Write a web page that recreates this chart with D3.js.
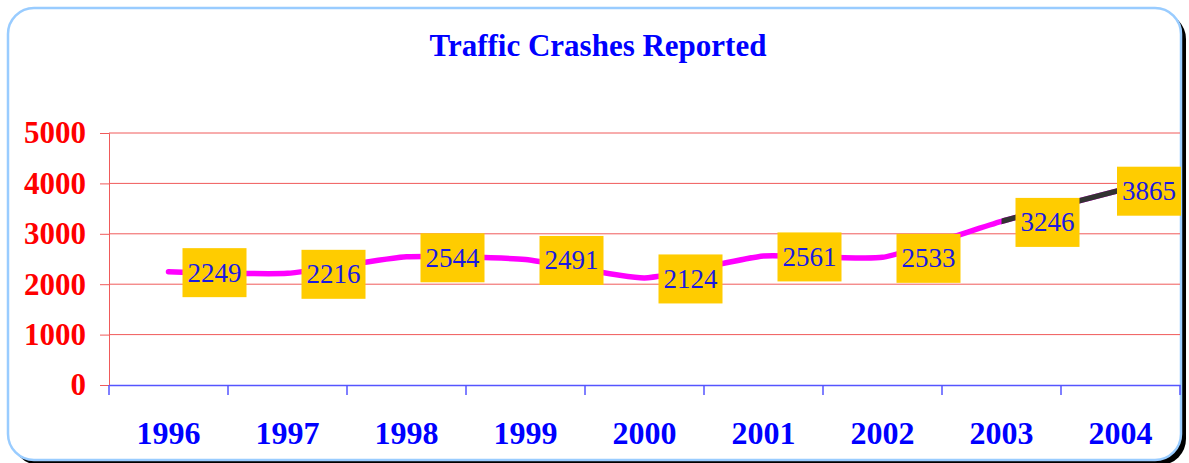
<!DOCTYPE html>
<html>
<head>
<meta charset="utf-8">
<script src="https://cdn.jsdelivr.net/npm/d3@7"></script>
<style>
  html, body { margin: 0; padding: 0; background: #fff; }
  svg { display: block; }
</style>
</head>
<body>
<div id="chart"></div>
<script>
// chart values
const years = ["1996", "1997", "1998", "1999", "2000", "2001", "2002", "2003", "2004"];
const crashes = [2249, 2216, 2544, 2491, 2124, 2561, 2533, 3246, 3865];
const yTicks = [0, 1000, 2000, 3000, 4000, 5000];
const chartTitle = "Traffic Crashes Reported";

const serif = "'Liberation Serif', 'Times New Roman', serif";

/**
 * Build the svg, the framed panel and the scales.
 * @param plot plot object that collects all the pieces
 * @param key selector for the html
 */
function initPlot(plot, key) {
    plot.W = 1189;
    plot.H = 463;
    plot.margin = {top: 133, right: 9, bottom: 78, left: 109};
    plot.width = plot.W - plot.margin.left - plot.margin.right;
    plot.height = plot.H - plot.margin.top - plot.margin.bottom;

    plot.graph = d3.select(key).append("svg")
        .attr("width", plot.W)
        .attr("height", plot.H);

    // panel with shadow
    plot.graph.append("rect")
        .attr("x", 13).attr("y", 13)
        .attr("width", 1173).attr("height", 452)
        .attr("rx", 26)
        .attr("fill", "#000");
    plot.graph.append("rect")
        .attr("x", 8).attr("y", 8)
        .attr("width", 1173).attr("height", 452)
        .attr("rx", 26)
        .attr("fill", "#fff")
        .attr("stroke", "#99ccff")
        .attr("stroke-width", 2.5);

    plot.graph.append("text")
        .attr("x", 598).attr("y", 56)
        .attr("text-anchor", "middle")
        .style("font-family", serif)
        .style("font-weight", "bold")
        .style("font-size", "31px")
        .attr("fill", "#0000ff")
        .text(chartTitle);

    plot.plot = plot.graph.append("g")
        .attr("transform", "translate(" + plot.margin.left + "," + plot.margin.top + ")");

    plot.x = d3.scaleBand().domain(years).range([0, plot.width]);
    plot.y = d3.scaleLinear().domain([0, 5000]).range([plot.height, 0]);
}

/**
 * Grid lines, y axis in red, x axis in blue.
 */
function drawAxes(plot) {
    let g = plot.plot;

    g.append("g").selectAll("line")
        .data(yTicks.filter(d => d > 0))
        .join("line")
        .attr("x1", 0).attr("x2", plot.width)
        .attr("y1", d => plot.y(d)).attr("y2", d => plot.y(d))
        .attr("stroke", "#f05a5a");

    let yAxis = g.append("g")
        .call(d3.axisLeft(plot.y).tickValues(yTicks).tickSize(9).tickPadding(14).tickFormat(d3.format("d")));
    yAxis.selectAll("line, path").attr("stroke", "#f05a5a");
    yAxis.selectAll("text")
        .attr("fill", "#ff0000")
        .style("font-family", serif)
        .style("font-weight", "bold")
        .style("font-size", "31px");

    let xAxis = g.append("g")
        .attr("transform", "translate(0," + plot.height + ")")
        .call(d3.axisBottom(plot.x).tickSize(0).tickPadding(36));
    xAxis.select("path").attr("stroke", "#5555ff").attr("stroke-width", 1.5);
    xAxis.selectAll("text")
        .attr("fill", "#0000ff")
        .style("font-family", serif)
        .style("font-weight", "bold")
        .style("font-size", "32px");

    // ticks between the categories
    let bounds = years.map(d => plot.x(d)).concat([plot.width]);
    xAxis.append("g").selectAll("line")
        .data(bounds)
        .join("line")
        .attr("x1", d => d).attr("x2", d => d)
        .attr("y1", 0).attr("y2", 10)
        .attr("stroke", "#5555ff")
        .attr("stroke-width", 1.5);
}

/**
 * Smoothed line, last stretch dark, then the value boxes.
 */
function drawLine(plot) {
    let g = plot.plot;
    let cx = d => plot.x(d) + plot.x.bandwidth() / 2;
    let pts = years.map((d, i) => [cx(d), plot.y(crashes[i])]);
    let line = d3.line().curve(d3.curveCardinal.tension(0.5));

    g.append("path")
        .attr("d", line(pts))
        .attr("fill", "none")
        .attr("stroke", "#ff00ff")
        .attr("stroke-width", 5.5)
        .attr("stroke-linecap", "round")
        .attr("stroke-linejoin", "round");

    // dark part from 2003 on
    let cut = cx(years[years.length - 2]);
    plot.graph.append("clipPath").attr("id", "lastSeg")
        .append("rect")
        .attr("x", cut).attr("y", -50)
        .attr("width", plot.width - cut + 20).attr("height", plot.height + 100);
    g.append("path")
        .attr("d", line(pts))
        .attr("clip-path", "url(#lastSeg)")
        .attr("fill", "none")
        .attr("stroke", "#333")
        .attr("stroke-width", 5.5)
        .attr("stroke-linecap", "round");

    let boxW = 64, boxH = 49;
    let labels = g.append("g").selectAll("g")
        .data(years.map((d, i) => ({year: d, v: crashes[i]})))
        .join("g")
        .attr("transform", d => {
            let lx = Math.min(cx(d.year) + 14, plot.width + 1 - boxW);
            return "translate(" + lx + "," + (plot.y(d.v) - boxH / 2 + 1) + ")";
        });
    labels.append("rect")
        .attr("width", boxW).attr("height", boxH)
        .attr("fill", "#ffcc00");
    labels.append("text")
        .attr("x", boxW / 2).attr("y", boxH / 2 + 9)
        .attr("text-anchor", "middle")
        .attr("fill", "#1a1ae0")
        .style("font-family", serif)
        .style("font-size", "27px")
        .text(d => d.v);
}

let plot = {};
initPlot(plot, "#chart");
drawAxes(plot);
drawLine(plot);
</script>
</body>
</html>
